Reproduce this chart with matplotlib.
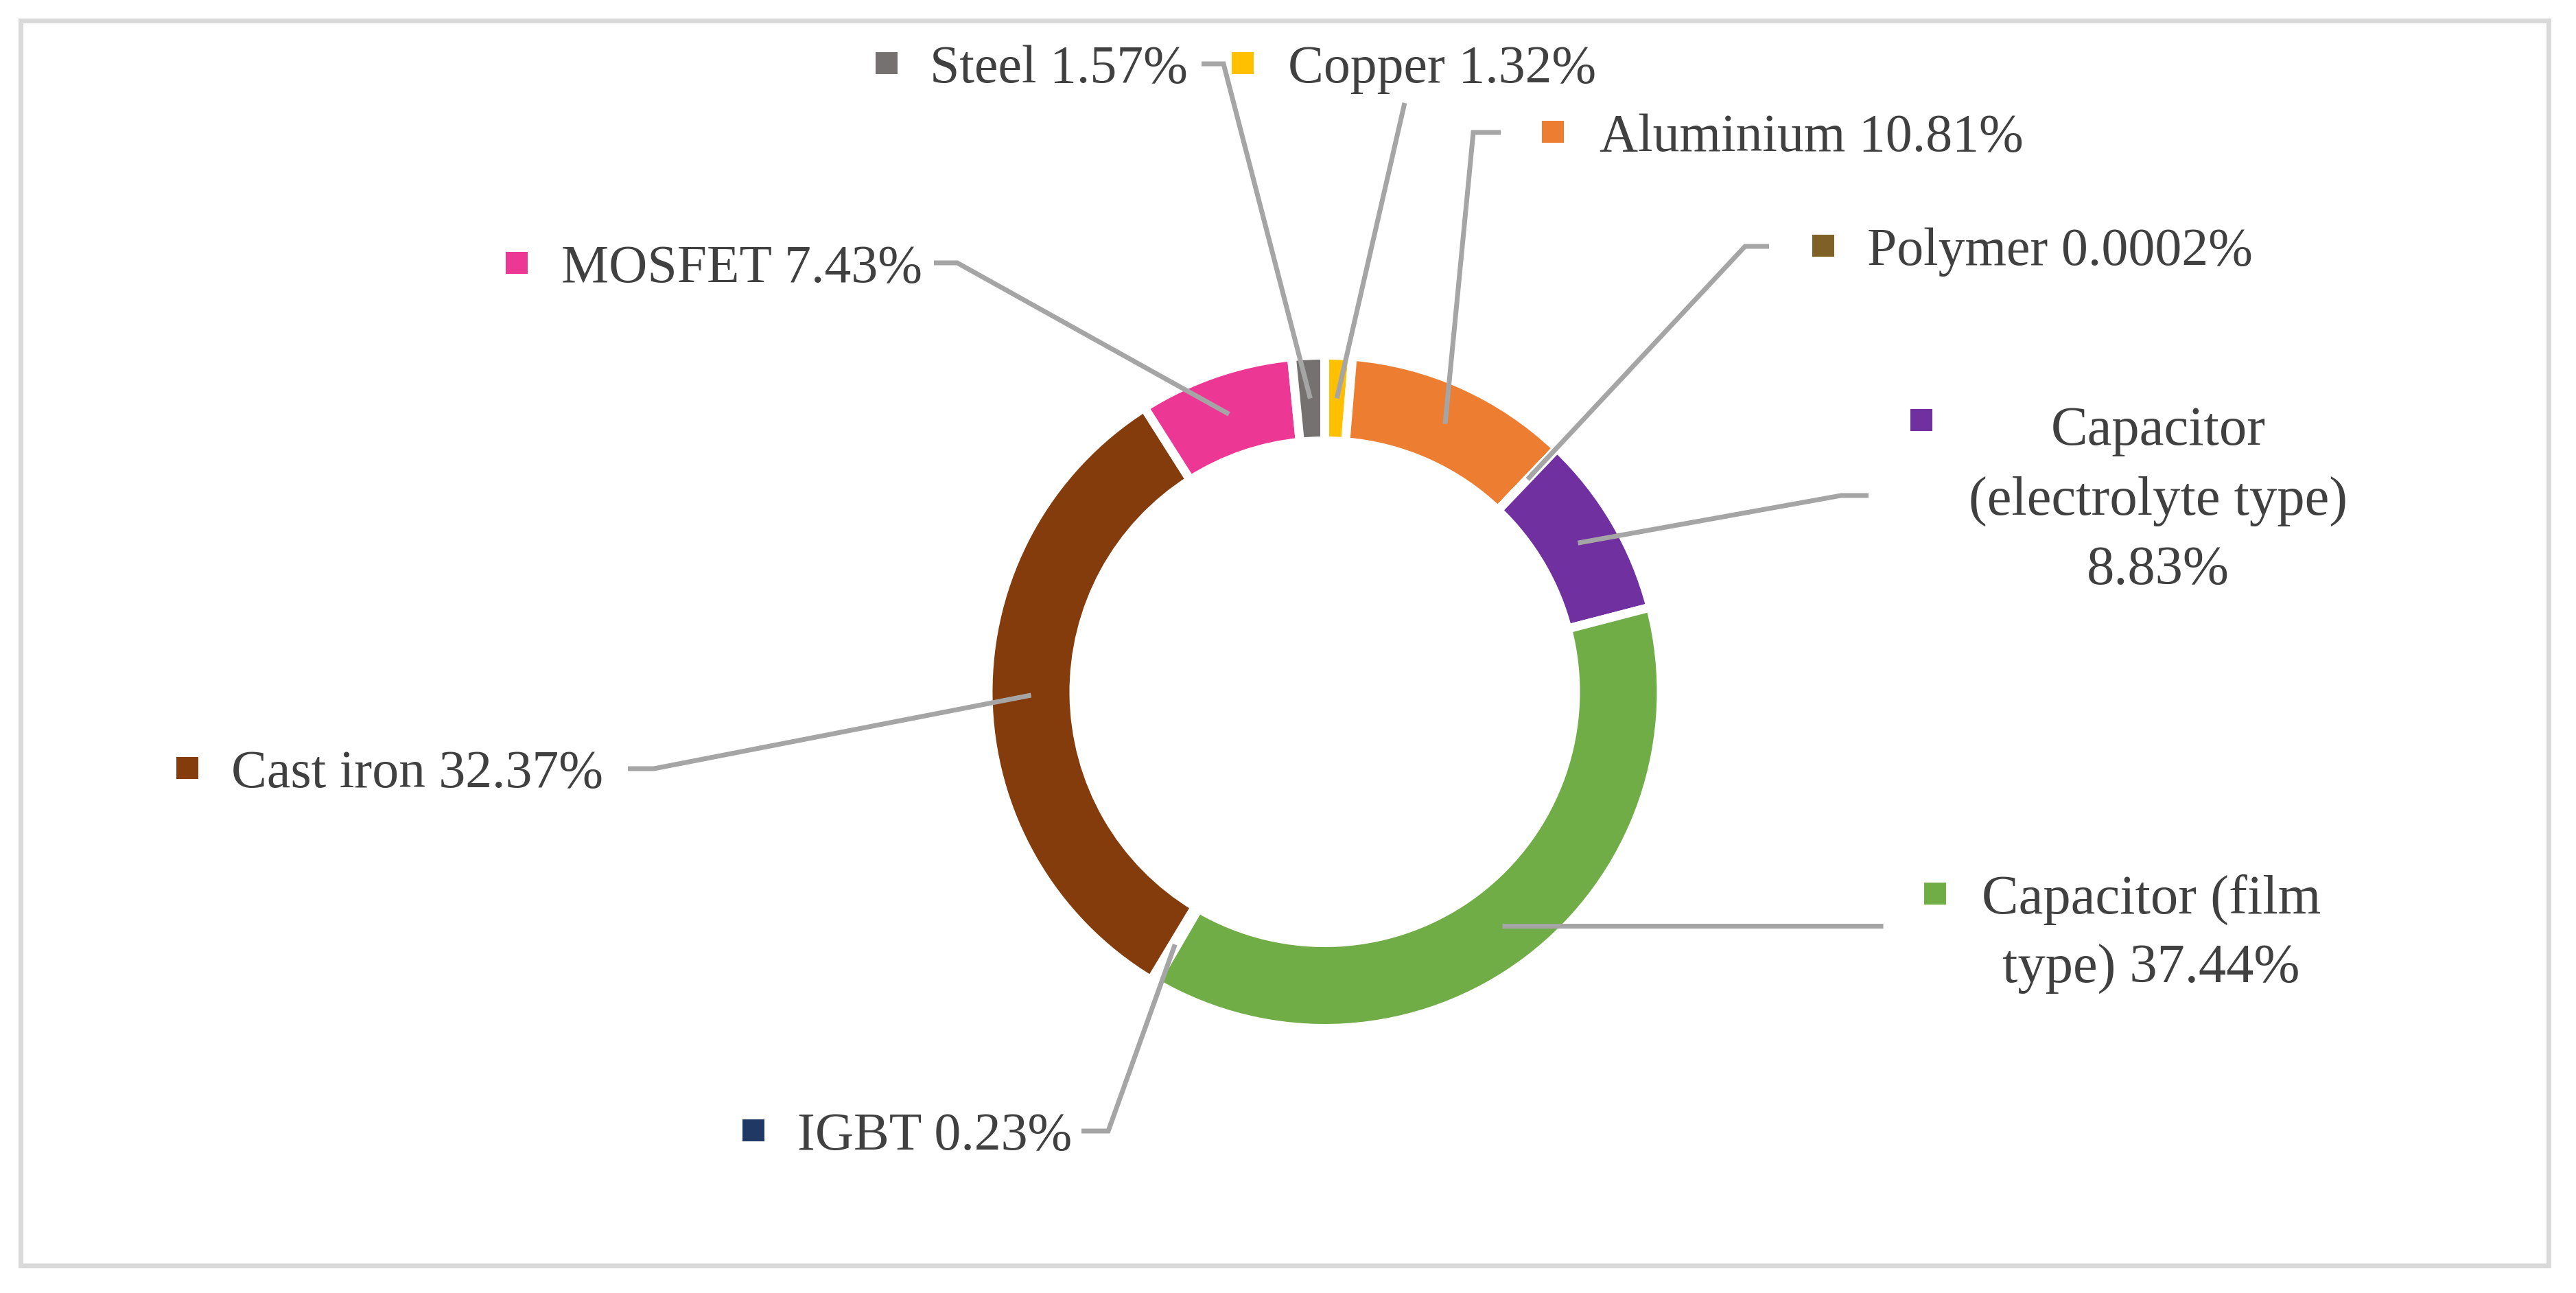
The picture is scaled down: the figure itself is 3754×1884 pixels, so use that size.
import numpy as np
import matplotlib
matplotlib.use("Agg")
import matplotlib.pyplot as plt
from matplotlib.patches import Rectangle

# ---------------- data ----------------
materials = ["Copper", "Aluminium", "Polymer", "Capacitor\n(electrolyte type)",
             "Capacitor (film\ntype)", "IGBT", "Cast iron", "MOSFET", "Steel"]
shares = [1.32, 10.81, 0.0002, 8.83, 37.44, 0.23, 32.37, 7.43, 1.57]
pct_sep = [" ", " ", " ", "\n", " ", " ", " ", " ", " "]
colors = ["#FFC000", "#ED7D31", "#7F6025", "#7030A0", "#70AD47",
          "#203864", "#843C0C", "#ED3795", "#767171"]

# ---------------- layout (image pixel coords, y down) ----------------
W, H = 3754, 1884
DPI = 100
CX, CY = 1930.5, 1008
R_OUT, R_IN = 484, 372
GAP = 13  # white separator in px

# square centre, text anchor x, alignment, leader start, elbow
layout = {
    "Copper":    dict(sq=(1811, 92),  tx=1877, ha="left",   start=(2047, 150), elbow=None),
    "Aluminium": dict(sq=(2263, 192), tx=2331, ha="left",   start=(2187, 193), elbow=(2147, 193)),
    "Polymer":   dict(sq=(2657, 358), tx=2721, ha="left",   start=(2578, 359), elbow=(2543, 359)),
    "Capacitor\n(electrolyte type)":
                 dict(sq=(2800, 612), tx=3145, ha="center", start=(2723, 722), elbow=(2683, 722), ty=730),
    "Capacitor (film\ntype)":
                 dict(sq=(2820, 1302), tx=3135, ha="center", start=(2744, None), elbow=None, ty=1361),
    "IGBT":      dict(sq=(1098, 1647), tx=1162, ha="left",  start=(1576, 1648), elbow=(1615, 1648)),
    "Cast iron": dict(sq=(273, 1119), tx=337, ha="left",    start=(915, 1120), elbow=(953, 1120)),
    "MOSFET":    dict(sq=(753, 383),  tx=818, ha="left",    start=(1361, 383), elbow=(1395, 383)),
    "Steel":     dict(sq=(1292, 92),  tx=1355, ha="left",   start=(1751, 93), elbow=(1783, 93)),
}

TEXT_COLOR = "#404040"
LEADER_COLOR = "#A5A5A5"
FONT = ["Liberation Serif", "DejaVu Serif"]
FS = 56
px2pt = 72.0 / DPI


def Y(y):
    return H - y


fig = plt.figure(figsize=(W / DPI, H / DPI), dpi=DPI)
ax = fig.add_axes([0, 0, 1, 1])

wedges, _ = ax.pie(shares, colors=colors, startangle=90, counterclock=False,
                   center=(CX, Y(CY)), radius=R_OUT + GAP / 2,
                   wedgeprops=dict(width=(R_OUT - R_IN) + GAP, edgecolor="white",
                                   linewidth=GAP * px2pt))
ax.set_xlim(0, W)
ax.set_ylim(0, H)
ax.set_aspect("auto")
ax.axis("off")

# frame
ax.add_patch(Rectangle((30, Y(1844)), 3714 - 30, 1844 - 30, fill=False,
                       edgecolor="#D9D9D9", linewidth=7 * px2pt, zorder=0))

total = sum(shares)
cum = 0.0
r_mid = (R_OUT + R_IN) / 2
for name, val, sep, col, w in zip(materials, shares, pct_sep, colors, wedges):
    mid = (cum + val / 2) / total * 2 * np.pi
    cum += val
    axp = CX + r_mid * np.sin(mid)
    ayp = CY - r_mid * np.cos(mid)
    L = layout[name]
    sx, sy = L["start"]
    if sy is None:
        sy = ayp
    pts = [(sx, sy)]
    if L["elbow"] is not None:
        pts.append(L["elbow"])
    pts.append((axp, ayp))
    xs = [p[0] for p in pts]
    ys = [Y(p[1]) for p in pts]
    ax.plot(xs, ys, color=LEADER_COLOR, lw=7 * px2pt, solid_capstyle="butt",
            solid_joinstyle="miter", zorder=3)

    # legend key square
    qx, qy = L["sq"]
    s = 32
    ax.add_patch(Rectangle((qx - s / 2, Y(qy) - s / 2), s, s, facecolor=col,
                           edgecolor="none", zorder=5))
    label = f"{name}{sep}{val:g}%"
    if L["ha"] == "left":
        ax.text(L["tx"], Y(qy + 28), label, ha="left", va="baseline",
                fontsize=FS, family=FONT, color=TEXT_COLOR, zorder=6)
    else:
        ax.text(L["tx"], Y(L["ty"]), label, ha="center", va="center",
                multialignment="center", linespacing=1.5,
                fontsize=FS + 2, family=FONT, color=TEXT_COLOR, zorder=6)

fig.savefig("out.png", dpi=DPI, facecolor="white")
